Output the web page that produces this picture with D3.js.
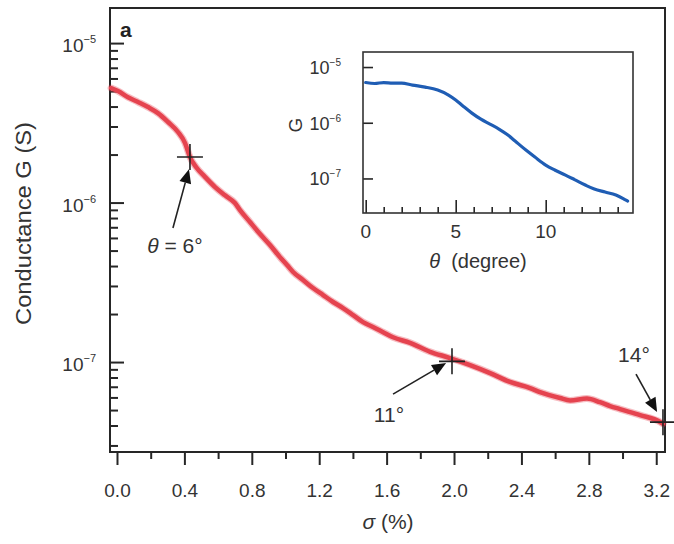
<!DOCTYPE html>
<html>
<head>
<meta charset="utf-8">
<script src="https://cdn.jsdelivr.net/npm/d3@7"></script>
<style>
  html, body { margin: 0; padding: 0; background: #fff; }
  svg { display: block; font-family: "Liberation Sans", Arial, Helvetica, sans-serif; }
</style>
</head>
<body>
<svg id="chart" width="674" height="544"></svg>
<script>
// ---------- DATA ----------
// Main panel: conductance G (S) vs strain sigma (%)
const sigma = [-0.035, 0.006, 0.065, 0.125, 0.184, 0.243, 0.303, 0.362, 0.404, 0.433,
  0.469, 0.522, 0.582, 0.641, 0.700, 0.730, 0.789, 0.849, 0.908, 0.967,
  1.009, 1.045, 1.104, 1.163, 1.223, 1.282, 1.341, 1.401, 1.460, 1.519,
  1.579, 1.638, 1.739, 1.858, 1.976, 2.095, 2.214, 2.332, 2.451, 2.510,
  2.629, 2.689, 2.789, 2.866, 2.926, 2.985, 3.104, 3.223, 3.240];
const Gmain = [5.22e-6, 5.0e-6, 4.58e-6, 4.27e-6, 3.97e-6, 3.64e-6, 3.20e-6, 2.77e-6, 2.36e-6, 1.93e-6,
  1.67e-6, 1.45e-6, 1.25e-6, 1.11e-6, 9.93e-7, 8.97e-7, 7.55e-7, 6.35e-7, 5.42e-7, 4.55e-7,
  4.06e-7, 3.67e-7, 3.27e-7, 2.91e-7, 2.63e-7, 2.38e-7, 2.18e-7, 1.97e-7, 1.78e-7, 1.66e-7,
  1.54e-7, 1.43e-7, 1.32e-7, 1.16e-7, 1.06e-7, 9.57e-8, 8.53e-8, 7.50e-8, 6.87e-8, 6.48e-8,
  5.95e-8, 5.75e-8, 5.90e-8, 5.60e-8, 5.30e-8, 5.07e-8, 4.65e-8, 4.21e-8, 4.10e-8];

// Inset: G vs theta (degree)
const theta = [0, 0.5, 1.0, 1.5, 2.0, 2.6, 3.3, 4.0, 4.6, 5.0, 5.4, 5.9, 6.4, 6.9, 7.4,
  7.9, 8.3, 8.9, 9.4, 10.0, 10.5, 11.1, 11.6, 12.2, 12.7, 13.3, 13.9, 14.4, 14.55];
const Ginset = [5.27e-6, 5.06e-6, 5.27e-6, 5.16e-6, 5.16e-6, 4.75e-6, 4.37e-6, 3.86e-6, 3.14e-6,
  2.56e-6, 2.00e-6, 1.49e-6, 1.16e-6, 9.48e-7, 7.71e-7, 6.02e-7, 4.69e-7, 3.23e-7, 2.42e-7,
  1.74e-7, 1.42e-7, 1.15e-7, 9.55e-8, 7.62e-8, 6.46e-8, 5.70e-8, 5.04e-8, 4.18e-8, 3.93e-8];

// Cross markers on the main curve
const markSigma = [0.433, 1.988, 3.240];
const markG = [1.93e-6, 1.01e-7, 4.2e-8];

// Annotations (label text, label anchor, arrow tail, arrow tip) in data units
const annLabel = ["6°", "11°", "14°"];
const annPrefix = ["θ = ", "", ""];
const annSigma = [0.344, 1.614, 3.068];
const annG = [4.82e-7, 4.21e-8, 1.0e-7];
const arrowTailSigma = [0.332, 1.638, 3.080];
const arrowTailG = [6.92e-7, 6.29e-8, 8.41e-8];
const arrowTipSigma = [0.427, 1.953, 3.205];
const arrowTipG = [1.62e-6, 9.86e-8, 4.86e-8];

// Ticks
const xMajorTicks = [0, 0.4, 0.8, 1.2, 1.6, 2.0, 2.4, 2.8, 3.2];
const xMinorTicks = [0.2, 0.6, 1.0, 1.4, 1.8, 2.2, 2.6, 3.0];
const yMajorTicks = [1e-5, 1e-6, 1e-7];
const yMajorExp = ["−5", "−6", "−7"];
const insetXMajor = [0, 5, 10];
const insetXMinor = [1, 2, 3, 4, 6, 7, 8, 9, 11, 12, 13, 14];
const insetYMajor = [1e-5, 1e-6, 1e-7];

// ---------- DRAWING ----------
const svg = d3.select("#chart");
const ink = "#262626";
const red = "#e5434f";
const blue = "#1f5db4";

const M = {left: 110, right: 665, top: 8, bottom: 452};
const x = d3.scaleLinear().domain([-0.0415, 3.252]).range([M.left, M.right]);
const y = d3.scaleLog().domain([Math.pow(10, -7.564), Math.pow(10, -4.78)]).range([M.bottom, M.top]);

// minor log ticks
const yMinor = [];
[-8, -7, -6, -5].forEach(e => { for (let k = 2; k <= 9; k++) { const v = k * Math.pow(10, e); if (v >= y.domain()[0] && v <= y.domain()[1]) yMinor.push(v); } });

// x axis (ticks outward, below)
const gx = svg.append("g").attr("transform", `translate(0,${M.bottom})`);
gx.call(d3.axisBottom(x).tickValues(xMajorTicks).tickSize(13).tickSizeOuter(0).tickFormat(d3.format(".1f")));
gx.select(".domain").remove();
gx.selectAll(".tick line").attr("stroke", ink).attr("stroke-width", 2);
gx.selectAll(".tick text").attr("y", 45).attr("dy", 0).attr("fill", "#333").attr("font-size", 19)
  .attr("font-family", "Liberation Sans, Arial, sans-serif");
const gxm = svg.append("g").attr("transform", `translate(0,${M.bottom})`);
gxm.call(d3.axisBottom(x).tickValues(xMinorTicks).tickSize(7).tickSizeOuter(0).tickFormat(""));
gxm.select(".domain").remove();
gxm.selectAll(".tick line").attr("stroke", ink).attr("stroke-width", 2);

// y axis (ticks inward)
const gy = svg.append("g").attr("transform", `translate(${M.left},0)`);
gy.call(d3.axisRight(y).tickValues(yMajorTicks).tickSize(14).tickSizeOuter(0).tickFormat(""));
gy.select(".domain").remove();
gy.selectAll(".tick line").attr("stroke", ink).attr("stroke-width", 2);
const gym = svg.append("g").attr("transform", `translate(${M.left},0)`);
gym.call(d3.axisRight(y).tickValues(yMinor).tickSize(8).tickSizeOuter(0).tickFormat(""));
gym.select(".domain").remove();
gym.selectAll(".tick line").attr("stroke", ink).attr("stroke-width", 2);

// y tick labels 10^n
yMajorTicks.forEach((v, i) => {
  const t = svg.append("text").attr("x", 96).attr("y", y(v) + 9).attr("text-anchor", "end")
    .attr("fill", "#333").attr("font-size", 19);
  t.append("tspan").text("10");
  t.append("tspan").attr("font-size", 11).attr("dy", -9).text(yMajorExp[i]);
});

// frame
svg.append("rect").attr("x", M.left).attr("y", M.top).attr("width", M.right - M.left)
  .attr("height", M.bottom - M.top).attr("fill", "none").attr("stroke", ink).attr("stroke-width", 2);

// axis titles
svg.append("text").attr("transform", `translate(31,${(122 + 325) / 2}) rotate(-90)`)
  .attr("text-anchor", "middle").attr("fill", "#333").attr("font-size", 22)
  .attr("textLength", 203).attr("lengthAdjust", "spacingAndGlyphs")
  .text("Conductance G (S)");
const xt = svg.append("text").attr("x", 388).attr("y", 529).attr("text-anchor", "middle")
  .attr("fill", "#333").attr("font-size", 21);
xt.append("tspan").attr("font-style", "italic").text("σ");
xt.append("tspan").text(" (%)");

// panel letter
svg.append("text").attr("x", 120).attr("y", 37).attr("font-weight", "bold")
  .attr("font-size", 21).attr("fill", "#222").text("a");

// main curve (soft halo + core to mimic the fuzzy trace)
const mainData = sigma.map((s, i) => [s, Gmain[i]]);
const mainLine = d3.line().curve(d3.curveMonotoneX).x(d => x(d[0])).y(d => y(d[1]));
svg.append("path").datum(mainData).attr("d", mainLine)
  .attr("fill", "none").attr("stroke", red).attr("stroke-opacity", 0.35).attr("stroke-width", 7)
  .attr("stroke-linejoin", "round").attr("stroke-linecap", "round");
svg.append("path").datum(mainData).attr("d", mainLine)
  .attr("fill", "none").attr("stroke", red).attr("stroke-width", 4.5)
  .attr("stroke-linejoin", "round").attr("stroke-linecap", "round");

// crosses
markSigma.forEach((s, i) => {
  const cx = x(s), cy = y(markG[i]);
  svg.append("path").attr("d", `M${cx - 13},${cy}H${cx + 13}M${cx},${cy - 13}V${cy + 13}`)
    .attr("stroke", "#222").attr("stroke-width", 1.6).attr("fill", "none");
});

// arrows + labels
annLabel.forEach((lab, i) => {
  const x0 = x(arrowTailSigma[i]), y0 = y(arrowTailG[i]);
  const x1 = x(arrowTipSigma[i]), y1 = y(arrowTipG[i]);
  const dx = x1 - x0, dy = y1 - y0, L = Math.hypot(dx, dy);
  const ux = dx / L, uy = dy / L, hl = 14, hw = 6;
  const bx = x1 - ux * hl, by = y1 - uy * hl;
  svg.append("line").attr("x1", x0).attr("y1", y0).attr("x2", bx).attr("y2", by)
    .attr("stroke", "#222").attr("stroke-width", 1.6);
  svg.append("path").attr("d", `M${x1},${y1}L${bx - uy * hw},${by + ux * hw}L${bx + uy * hw},${by - ux * hw}Z`)
    .attr("fill", "#111");
  const t = svg.append("text").attr("x", x(annSigma[i])).attr("y", y(annG[i]))
    .attr("text-anchor", "middle").attr("fill", "#333").attr("font-size", 21);
  if (annPrefix[i]) {
    t.append("tspan").attr("font-style", "italic").text("θ");
    t.append("tspan").text(" = ");
  }
  t.append("tspan").text(lab);
});

// ---------- INSET ----------
const I = {left: 363, right: 633, top: 52, bottom: 213};
const xi = d3.scaleLinear().domain([-0.15, 14.85]).range([I.left, I.right]);
const yi = d3.scaleLog().domain([Math.pow(10, -7.62), Math.pow(10, -4.73)]).range([I.bottom, I.top]);

svg.append("rect").attr("x", I.left).attr("y", I.top).attr("width", I.right - I.left)
  .attr("height", I.bottom - I.top).attr("fill", "#fff");

const gix = svg.append("g").attr("transform", `translate(0,${I.bottom})`);
gix.call(d3.axisTop(xi).tickValues(insetXMajor).tickSize(13).tickSizeOuter(0).tickFormat(""));
gix.select(".domain").remove();
gix.selectAll(".tick line").attr("stroke", ink).attr("stroke-width", 1.6);
const gixm = svg.append("g").attr("transform", `translate(0,${I.bottom})`);
gixm.call(d3.axisTop(xi).tickValues(insetXMinor).tickSize(6).tickSizeOuter(0).tickFormat(""));
gixm.select(".domain").remove();
gixm.selectAll(".tick line").attr("stroke", ink).attr("stroke-width", 1.6);
insetXMajor.forEach(v => {
  svg.append("text").attr("x", xi(v)).attr("y", 238).attr("text-anchor", "middle")
    .attr("fill", "#333").attr("font-size", 19).text(d3.format("d")(v));
});

const giy = svg.append("g").attr("transform", `translate(${I.left},0)`);
giy.call(d3.axisRight(yi).tickValues(insetYMajor).tickSize(10).tickSizeOuter(0).tickFormat(""));
giy.select(".domain").remove();
giy.selectAll(".tick line").attr("stroke", ink).attr("stroke-width", 1.6);
insetYMajor.forEach((v, i) => {
  const t = svg.append("text").attr("x", 341).attr("y", yi(v) + 7).attr("text-anchor", "end")
    .attr("fill", "#333").attr("font-size", 18);
  t.append("tspan").text("10");
  t.append("tspan").attr("font-size", 10).attr("dy", -8).text(yMajorExp[i]);
});

svg.append("rect").attr("x", I.left).attr("y", I.top).attr("width", I.right - I.left)
  .attr("height", I.bottom - I.top).attr("fill", "none").attr("stroke", "#333").attr("stroke-width", 1.6);

const insetData = theta.map((t, i) => [t, Ginset[i]]);
svg.append("path").datum(insetData)
  .attr("d", d3.line().curve(d3.curveMonotoneX).x(d => xi(d[0])).y(d => yi(d[1])))
  .attr("fill", "none").attr("stroke", blue).attr("stroke-width", 3.2)
  .attr("stroke-linejoin", "round").attr("stroke-linecap", "round");

svg.append("text").attr("transform", "translate(302,125) rotate(-90)").attr("text-anchor", "middle")
  .attr("fill", "#333").attr("font-size", 19).text("G");
const it = svg.append("text").attr("x", 478).attr("y", 268).attr("text-anchor", "middle")
  .attr("fill", "#333").attr("font-size", 20);
it.append("tspan").attr("font-style", "italic").text("θ");
it.append("tspan").text("\u00a0\u00a0(degree)");
</script>
</body>
</html>
